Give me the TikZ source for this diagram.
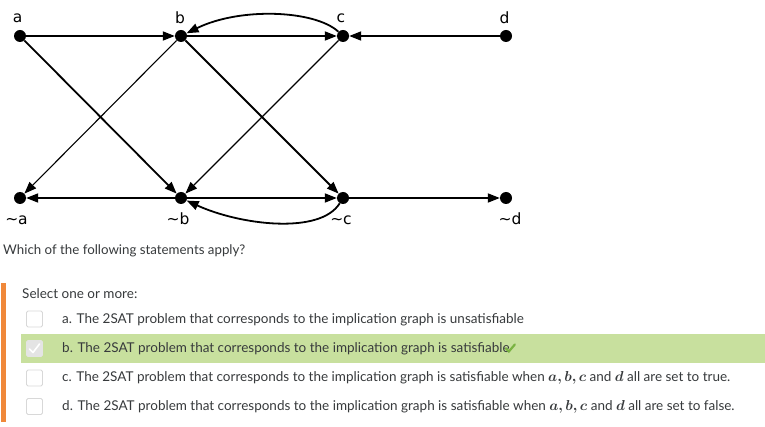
\documentclass[tikz,border=0pt]{standalone}
\usepackage{amsmath}
\usepackage{bm}
\usepackage{fontspec}
\setmainfont{Lato}
\newfontfamily\lblfont{DejaVu Sans}
\usetikzlibrary{arrows.meta}
\definecolor{txt}{HTML}{373A3C}
\definecolor{hl}{HTML}{C8E09E}
\definecolor{okgreen}{HTML}{7AB342}
\definecolor{barorange}{HTML}{F0883A}
\definecolor{boxgray}{HTML}{D8D8D8}
\begin{document}
\begin{tikzpicture}[x=1pt,y=-1pt,
  vert/.style={circle,fill=black,inner sep=0pt,minimum size=12pt},
  lbl/.style={font=\lblfont\fontsize{15.5}{15}\selectfont,inner sep=0pt},
  edge/.style={line width=1.8pt,-{Triangle[length=12pt,width=9pt]}},
  thinedge/.style={line width=1.1pt,-{Triangle[length=12pt,width=9pt]}},
  chk/.style={draw=boxgray,line width=0.8pt,fill=white,rounded corners=1.5pt,minimum size=16pt,inner sep=0pt},
  opt/.style={anchor=west,inner sep=0pt,text=txt,font=\fontsize{13.5}{15}\selectfont}
]
\useasboundingbox (0,0) rectangle (765,427);
\fill[white] (0,0) rectangle (765,427);
% vertices
\node[vert] (a) at (20,36) {};
\node[vert] (b) at (181,36) {};
\node[vert] (c) at (343,36) {};
\node[vert] (d) at (506,36) {};
\node[vert] (na) at (20,198) {};
\node[vert] (nb) at (181,198) {};
\node[vert] (nc) at (343,198) {};
\node[vert] (nd) at (506,198) {};
% labels
\node[lbl] (la) at (17.5,18) {a};
\node[lbl] (lb) at (180,17.5) {b};
\node[lbl] (lc) at (341,18) {c};
\node[lbl] (ld) at (504.5,17.5) {d};
\node[lbl] (lna) at (16.5,220) {\textasciitilde a};
\node[lbl] (lnb) at (178,219) {\textasciitilde b};
\node[lbl] (lnc) at (341,220) {\textasciitilde c};
\node[lbl] (lnd) at (510,219) {\textasciitilde d};
% edges
\draw[edge] (a) -- (b);
\draw[edge] (b) -- (c);
\draw[edge] (d) -- (c);
\draw[edge] (c) .. controls (315,10) and (240,7) .. (b);
\draw[edge] (a) -- (nb);
\draw[thinedge] (b) -- (na);
\draw[edge] (b) -- (nc);
\draw[thinedge] (c) -- (nb);
\draw[edge] (nb) -- (na);
\draw[edge] (nb) -- (nc);
\draw[edge] (nc) -- (nd);
\draw[edge] (nc) .. controls (320,235) and (240,225) .. (nb);
% question text
\node[opt,font=\fontsize{13.3}{15}\selectfont] (q) at (3,251) {Which of the following statements apply?};
\fill[barorange] (1,283) rectangle (6,422);
\node[opt] (sel) at (22,294) {Select one or more:};
\fill[hl] (21,334) rectangle (765,363);
\node[chk] (ca) at (34.5,319) {};
\node[chk,fill=boxgray!70,draw=boxgray!70] (cb) at (34.5,348.5) {};
\draw[white,line width=1.6pt,line cap=round,line join=round] (29.5,349) -- (33,352.5) -- (39.5,344);
\node[chk] (cc) at (34.5,378) {};
\node[chk] (cd) at (34.5,406.5) {};
\node[opt] (ta) at (62,320) {a. The 2SAT problem that corresponds to the implication graph is unsatisfiable};
\node[opt] (tb) at (62,348.5) {b. The 2SAT problem that corresponds to the implication graph is satisfiable};
\draw[okgreen,line width=2.2pt,line cap=round] (tb.east) ++(-4,0) -- ++(3,3) -- ++(6,-7);
\node[opt] (tc) at (62,377.5) {c. The 2SAT problem that corresponds to the implication graph is satisfiable when $\bm{a, b, c}$ and $\bm{d}$ all are set to true.};
\node[opt] (td) at (62,406.5) {d. The 2SAT problem that corresponds to the implication graph is satisfiable when $\bm{a, b, c}$ and $\bm{d}$ all are set to false.};
\end{tikzpicture}
\end{document}
